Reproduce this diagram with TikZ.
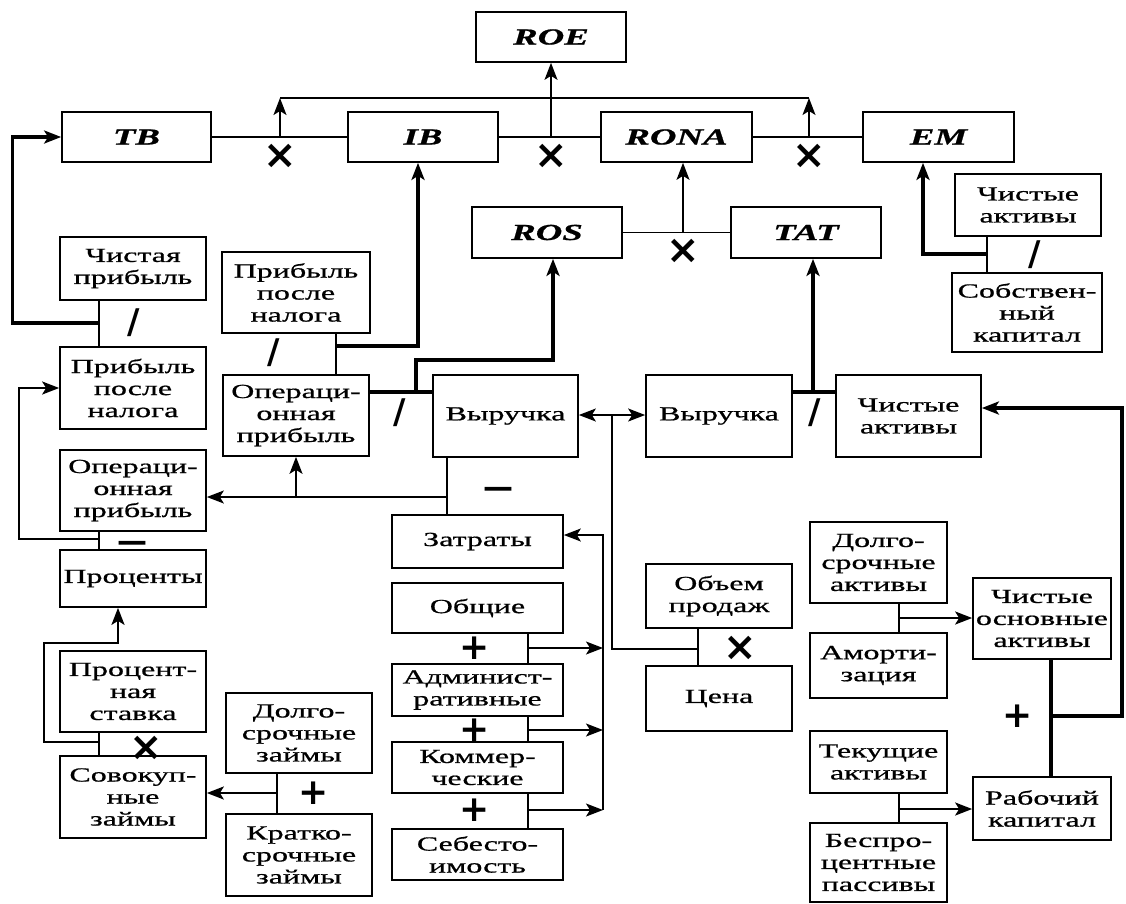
\documentclass[tikz,border=0pt]{standalone}
\usepackage{fontspec}
\setmainfont{Liberation Serif}[FakeStretch=1.6,FakeBold=0.8]
\newfontfamily\opfont{DejaVu Sans}
\usetikzlibrary{arrows.meta}
\newcommand\mybox[6]{\node[box,minimum width=#4pt,minimum height=#5pt] (#1) at (#2,#3) {#6};}
\newcommand\lbl[1]{{\fontsize{23}{24}\selectfont\bfseries\itshape #1}}
\begin{document}
\begin{tikzpicture}[x=1pt,y=-1pt,
  box/.style={draw,line width=1.7pt,align=center,inner sep=0pt,font=\fontsize{20}{22}\selectfont},
  thin/.style={line width=1.5pt},
  med/.style={line width=2.4pt},
  thk/.style={line width=3.2pt},
  >={Stealth[length=17pt,width=13pt,inset=4pt]},
  opx/.style={inner sep=0pt,font=\opfont\bfseries\fontsize{40}{40}\selectfont},
  opp/.style={inner sep=0pt,font=\opfont\bfseries\fontsize{36}{36}\selectfont},
  opm/.style={inner sep=0pt,font=\opfont\bfseries\fontsize{30}{30}\selectfont},
  sl/.style={inner sep=0pt,font=\opfont\bfseries\fontsize{34}{34}\selectfont}]
\fill[white] (0,0) rectangle (1126,903);
\useasboundingbox (0,0) rectangle (1126,903);
% boxes
\mybox{roe}{551}{37}{150}{50}{\lbl{ROE}}
\mybox{tb}{136.5}{137}{149}{50}{\lbl{TB}}
\mybox{ib}{423}{137}{150}{50}{\lbl{IB}}
\mybox{rona}{676.5}{137}{151}{50}{\lbl{RONA}}
\mybox{em}{938.5}{137}{151}{50}{\lbl{EM}}
\mybox{ros}{547}{232.5}{150}{51}{\lbl{ROS}}
\mybox{tat}{806}{232.5}{150}{51}{\lbl{TAT}}
\mybox{na1}{1028}{205}{146}{62}{Чистые\\активы}
\mybox{eq}{1027}{312.5}{150}{79}{Собствен-\\ный\\капитал}
\mybox{np}{133}{268.5}{146}{63}{Чистая\\прибыль}
\mybox{pat1}{133}{388}{146}{82}{Прибыль\\после\\налога}
\mybox{op1}{133}{490.5}{146}{81}{Операци-\\онная\\прибыль}
\mybox{int}{133}{578.5}{146}{57}{Проценты}
\mybox{rate}{133}{691.5}{146}{81}{Процент-\\ная\\ставка}
\mybox{debt}{133}{797}{146}{82}{Совокуп-\\ные\\займы}
\mybox{ltd}{299}{733}{146}{80}{Долго-\\срочные\\займы}
\mybox{std}{299}{855}{146}{82}{Кратко-\\срочные\\займы}
\mybox{pat2}{296}{292.5}{148}{81}{Прибыль\\после\\налога}
\mybox{op2}{296}{415.5}{146}{81}{Операци-\\онная\\прибыль}
\mybox{rev1}{505.5}{416}{145}{82}{Выручка}
\mybox{cost}{477.5}{541.5}{171}{53}{Затраты}
\mybox{gen}{477.5}{608}{171}{50}{Общие}
\mybox{adm}{477.5}{690}{171}{52}{Админист-\\ративные}
\mybox{com}{477.5}{767.5}{171}{51}{Коммер-\\ческие}
\mybox{cogs}{477.5}{854.5}{171}{51}{Себесто-\\имость}
\mybox{rev2}{719}{416}{146}{82}{Выручка}
\mybox{na2}{908.5}{416}{145}{82}{Чистые\\активы}
\mybox{vol}{719}{596}{146}{64}{Объем\\продаж}
\mybox{price}{719}{698.5}{146}{65}{Цена}
\mybox{lta}{878.5}{562.5}{137}{81}{Долго-\\срочные\\активы}
\mybox{amort}{878.5}{665.5}{137}{65}{Аморти-\\зация}
\mybox{nfa}{1042}{618.5}{138}{81}{Чистые\\основные\\активы}
\mybox{ca}{878.5}{762}{137}{62}{Текущие\\активы}
\mybox{nibl}{878.5}{862.5}{137}{79}{Беспро-\\центные\\пассивы}
\mybox{wc}{1042}{808.5}{138}{63}{Рабочий\\капитал}
% top level
\draw[thin] (tb.east) -- (ib.west);
\draw[thin] (ib.east) -- (rona.west);
\draw[thin] (rona.east) -- (em.west);
\coordinate (a1) at (280,137); \coordinate (a1t) at (280,98);
\coordinate (a2) at (809,137); \coordinate (a2t) at (809,98);
\coordinate (a3) at (551,137);
\draw[thin,->] (a1) -- (a1t);
\draw[thin,->] (a2) -- (a2t);
\draw[thin] (a1t) -- (a2t);
\draw[thin,->] (a3) -- (roe.south);
% ROS x TAT -> RONA
\draw[thin] (ros.east) -- (tat.west);
\coordinate (b1) at (683,232.5);
\draw[thin,->] (b1) -- (b1 |- rona.south);
% EM
\coordinate (c1) at (987,254); \coordinate (c2) at (923,254);
\draw[thin] (c1 |- na1.south) -- (c1 |- eq.north);
\draw[thk,->] (c1) -- (c2) -- (c2 |- em.south);
% TB
\coordinate (d1) at (99,323); \coordinate (d2) at (12.5,323);
\draw[thin] (d1 |- np.south) -- (d1 |- pat1.north);
\draw[thk,->] (d1) -- (d2) -- (d2 |- tb.west) -- (tb.west);
% profit after tax (left)
\coordinate (e1) at (99,539); \coordinate (e2) at (19,539);
\draw[thin] (e1 |- op1.south) -- (e1 |- int.north);
\draw[med,->] (e1) -- (e2) -- (e2 |- pat1.west) -- (pat1.west);
% interest
\coordinate (f1) at (99,742); \coordinate (f2) at (44,742);
\coordinate (f3) at (44,643); \coordinate (f4) at (118,643);
\draw[thin] (f1 |- rate.south) -- (f1 |- debt.north);
\draw[med,->] (f1) -- (f2) -- (f3) -- (f4) -- (f4 |- int.south);
% debt
\coordinate (g1) at (277,793);
\draw[thin] (g1 |- ltd.south) -- (g1 |- std.north);
\draw[med,->] (g1) -- (g1 -| debt.east);
% IB
\coordinate (h1) at (336,346); \coordinate (h2) at (418,346);
\draw[thin] (h1 |- pat2.south) -- (h1 |- op2.north);
\draw[thk,->] (h1) -- (h2) -- (h2 |- ib.south);
% ROS
\coordinate (k1) at (416,392); \coordinate (k2) at (416,360); \coordinate (k3) at (553,360);
\draw[thk] (k1 -| op2.east) -- (k1 -| rev1.west);
\draw[thk,->] (k1) -- (k2) -- (k3) -- (k3 |- ros.south);
% operating profit
\coordinate (m1) at (447,497); \coordinate (m2) at (296,497);
\draw[thin] (m1 |- rev1.south) -- (m1 |- cost.north);
\draw[thin,->] (m1) -- (m1 -| op1.east);
\draw[thin,->] (m2) -- (m2 |- op2.south);
% revenue
\coordinate (n1) at (612,415); \coordinate (n2) at (612,649); \coordinate (n3) at (698,649);
\draw[thin,->] (n1) -- (n1 -| rev1.east);
\draw[thin,->] (n1) -- (n1 -| rev2.west);
\draw[thin] (n1) -- (n2) -- (n3);
\draw[thin] (n3 |- vol.south) -- (n3 |- price.north);
% costs
\coordinate (p1) at (603,810); \coordinate (p2) at (603,535);
\draw[thin,->] (p1) -- (p2) -- (p2 -| cost.east);
\coordinate (q1) at (528,648); \coordinate (q2) at (528,730); \coordinate (q3) at (528,810);
\draw[thin] (q1 |- gen.south) -- (q1 |- adm.north);
\draw[thin,->] (q1) -- (q1 -| p1);
\draw[thin] (q2 |- adm.south) -- (q2 |- com.north);
\draw[thin,->] (q2) -- (q2 -| p1);
\draw[thin] (q3 |- com.south) -- (q3 |- cogs.north);
\draw[thin,->] (q3) -- (p1);
% TAT
\coordinate (r1) at (813,392);
\draw[thk] (r1 -| rev2.east) -- (r1 -| na2.west);
\draw[thk,->] (r1) -- (r1 |- tat.south);
% fixed assets, working capital
\coordinate (s1) at (899,618); \coordinate (s2) at (899,809);
\draw[med] (s1 |- lta.south) -- (s1 |- amort.north);
\draw[med,->] (s1) -- (s1 -| nfa.west);
\draw[med] (s2 |- ca.south) -- (s2 |- nibl.north);
\draw[med,->] (s2) -- (s2 -| wc.west);
\coordinate (t1) at (1051,716); \coordinate (t2) at (1122,716); \coordinate (t3) at (1122,408);
\draw[thk] (t1 |- nfa.south) -- (t1 |- wc.north);
\draw[thk,->] (t1) -- (t2) -- (t3) -- (t3 -| na2.east);
% operators
\node[opx] (x1) at (280,156) {×};
\node[opx] (x2) at (551,156) {×};
\node[opx] (x3) at (809,156) {×};
\node[opx] (x4) at (683,251) {×};
\node[opx] (x5) at (740,648) {×};
\node[opx] (x6) at (146,748) {×};
\node[sl] (s1o) at (134,323) {/};
\node[sl] (s2o) at (274,353) {/};
\node[sl] (s3o) at (400,413) {/};
\node[sl] (s4o) at (815,413) {/};
\node[sl] (s5o) at (1035,255) {/};
\node[opm] (d1o) at (498,492) {—};
\node[opm] (d2o) at (132,546) {—};
\node[opp] (p1o) at (475,648) {+};
\node[opp] (p2o) at (475,730) {+};
\node[opp] (p3o) at (475,810) {+};
\node[opp] (p4o) at (314,793) {+};
\node[opp] (p5o) at (1018,716) {+};
\end{tikzpicture}
\end{document}
